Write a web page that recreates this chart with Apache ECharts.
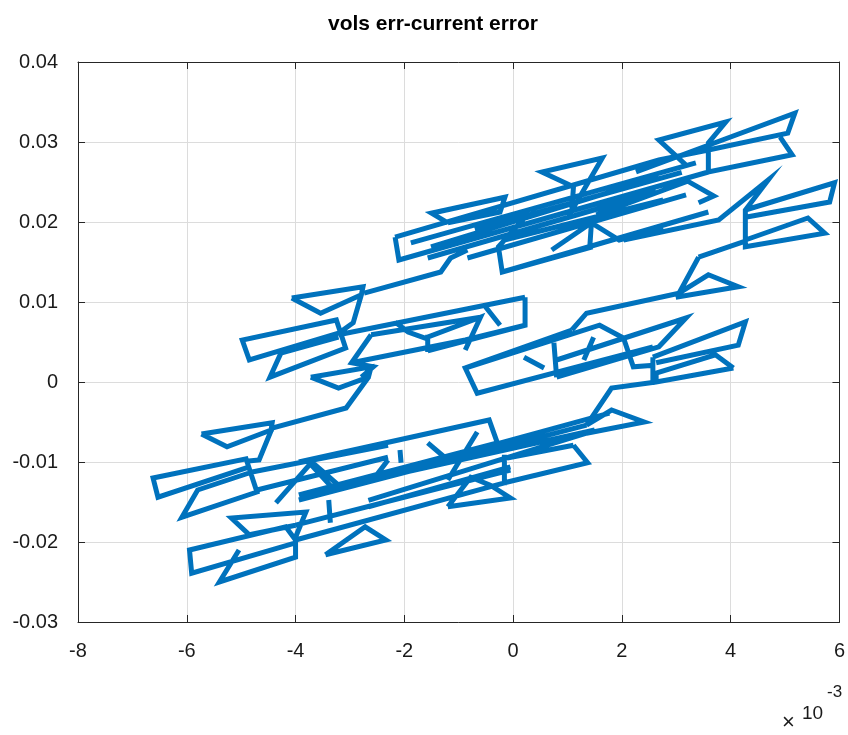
<!DOCTYPE html>
<html><head><meta charset="utf-8">
<script src="https://cdn.jsdelivr.net/npm/echarts@6/dist/echarts.min.js"></script>
<style>html,body{margin:0;padding:0;background:#fff}#c{width:848px;height:735px}</style>
</head><body><div id="c"></div>
<script>
// Trajectory of voltage error vs current error (x in units of 1e-3).
// null entries separate individual strokes of the trajectory.
const upperX = [3.18,2.68,3.91,3.59,3.59,5.13,4.91,null,
  2.26,5.18,5.05,3.59,null,
  -2.17,2.68,3.59,null,
  -2.17,-2.10,3.59,null,
  -1.88,3.36,null,
  -1.57,2.63,null,
  -0.70,3.10,null,
  -1.51,2.68,null,
  -0.16,2.76,null,
  -1.20,-1.50,-0.15,-0.24,-1.20,null,
  1.02,1.64,0.53,1.11,1.08,null,
  0.26,-0.27,-0.20,1.46,null,
  0.71,1.44,1.41,null,
  1.44,1.95,2.76,null,
  1.53,3.21,3.69,3.41,null,
  2.03,3.78,4.69,4.27,4.27,5.73,5.42,4.27,null,
  4.27,5.91,5.82,4.27,null,
  3.41,4.27,null,
  3.41,3.05,1.35,1.08,null,
  3.05,3.59,4.14,2.99,null,
  -0.20,3.59,null,
  -0.84,3.18,null,
  -0.84,-1.15,-1.33,-2.74];
const upperY = [0.0271,0.03025,0.0325,0.0299,0.02625,0.0284,0.0306,null,
  0.02625,0.0336,0.0311,0.0290,null,
  0.0181,0.02775,0.0290,null,
  0.0181,0.01525,0.02625,null,
  0.0174,0.0274,null,
  0.0155,0.02375,null,
  0.0190,0.0262,null,
  0.0169,0.0256,null,
  0.01775,0.02275,null,
  0.0199,0.0211,0.0231,0.02125,0.0199,null,
  0.02075,0.0280,0.02625,0.0244,0.0215,null,
  0.0209,0.0169,0.01375,0.0169,null,
  0.0165,0.0199,0.0169,null,
  0.0199,0.01775,0.01925,null,
  0.0209,0.0251,0.02325,0.0224,null,
  0.01775,0.02025,0.02525,0.0215,0.0169,0.0186,0.0205,0.01775,null,
  0.0215,0.0249,0.0225,0.0206,null,
  0.0156,0.0176,null,
  0.0156,0.0111,0.0086,0.0065,null,
  0.0111,0.0134,0.0119,0.0106,null,
  0.01375,0.02125,null,
  0.0155,0.0234,null,
  0.0165,0.0155,0.01375,0.0111];

const middleX = [-4.07,-2.76,-2.79,-3.54,-4.07,null,
  -2.79,-2.94,-3.21,null,
  -3.21,-4.85,-4.98,-3.25,-3.08,-4.47,-4.27,-3.21,null,
  -3.21,0.22,null,
  0.22,0.22,-1.57,null,
  -0.53,-0.24,null,
  -2.17,-1.93,-1.62,-0.60,-0.88,null,
  -2.61,-0.60,null,
  -2.61,-2.97,-2.57,-2.79,null,
  -2.97,-0.88,0.22,null,
  -1.57,-1.57,null,
  -3.72,-2.61,-2.66,-3.21,-3.72,null,
  -2.66,-3.07,-4.43,-4.67,-4.91,null,
  1.08,-0.88,-0.66,2.57,null,
  -0.88,1.59,2.03,2.21,2.59,null,
  0.80,3.18,2.68,0.80,null,
  2.57,4.27,4.14,2.63,null,
  4.05,3.72,2.63,2.63,4.05,null,
  2.57,2.57,null,
  0.75,0.80,null,
  0.20,0.57,null,
  1.48,1.30,null,
  2.63,1.81,1.35];
const middleY = [0.0105,0.0119,0.0109,0.0086,0.0105,null,
  0.0109,0.0074,0.0061,null,
  0.0061,0.00275,0.00525,0.00775,0.00425,0.0006,0.0036,0.0056,null,
  0.0059,0.0106,null,
  0.0106,0.0071,0.0039,null,
  0.0096,0.0071,null,
  0.0075,0.00625,0.0055,0.0081,0.0040,null,
  0.0059,0.0081,null,
  0.0059,0.0024,0.0019,0.0006,null,
  0.0024,0.00525,0.0071,null,
  0.0059,0.00375,null,
  0.0006,0.0019,0.0006,-0.00075,0.0006,null,
  0.0006,-0.00325,-0.00575,-0.00975,-0.0099,null,
  0.0065,0.00175,-0.0014,0.0044,null,
  0.00175,0.0071,0.0055,0.0019,0.0021,null,
  0.00275,0.0080,0.0044,0.0006,null,
  0.0031,0.0075,0.0046,0.0024,null,
  0.00175,0.0034,0.0011,0,0.00175,null,
  0.0031,-0.0001,null,
  0.0049,0.0006,null,
  0.0031,0.00175,null,
  0.0056,0.00275,null,
  0,-0.00075,-0.0054];

const lowerX = [1.35,1.81,2.41,1.35,null,
  1.35,-3.94,null,
  1.77,-3.39,null,
  1.50,-2.80,null,
  1.35,-2.66,null,
  -2.66,-0.05,null,
  1.11,1.37,-0.16,null,
  -0.11,1.11,null,
  -0.16,-0.16,null,
  -3.94,-0.44,-0.29,-3.94,null,
  -0.66,-1.20,null,
  -1.20,-0.05,-0.42,-0.78,-1.20,null,
  -1.57,-1.20,null,
  -2.08,-2.06,null,
  -3.45,-2.34,-2.72,-3.45,null,
  -3.76,-3.34,null,
  -3.39,-3.36,null,
  -4.00,-0.16,null,
  -2.30,-2.54,-0.16,null,
  -5.73,-4.43,-4.45,-5.26,-5.73,null,
  -4.85,-6.53,-6.62,-4.91,-4.71,-6.09,-5.80,-4.80,null,
  -4.80,-2.30,null,
  -4.36,-3.70,-3.21,-2.30,null,
  -4.71,-2.30,null,
  -4.00,-3.81,-5.18,-4.85,-4.00,null,
  -4.00,-4.18,-5.95,-5.91,-4.00,null,
  -5.04,-5.40,-4.00,-4.00,null,
  -4.00,-0.05];
const lowerY = [-0.0054,-0.0035,-0.0050,-0.0064,null,
  -0.0054,-0.01475,null,
  -0.0039,-0.0135,null,
  -0.0060,-0.0125,null,
  -0.0064,-0.0148,null,
  -0.0156,-0.0106,null,
  -0.0079,-0.0101,-0.0126,null,
  -0.0095,-0.0079,null,
  -0.0091,-0.0129,null,
  -0.0100,-0.00475,-0.0076,-0.0141,null,
  -0.00625,-0.01225,null,
  -0.0156,-0.0145,-0.0129,-0.0119,-0.0156,null,
  -0.0076,-0.00975,null,
  -0.0085,-0.0101,null,
  -0.0216,-0.01975,-0.0181,-0.0216,null,
  -0.0100,-0.0131,null,
  -0.01475,-0.0176,null,
  -0.01975,-0.0126,null,
  -0.00975,-0.0119,-0.0079,null,
  -0.0065,-0.0051,-0.0060,-0.0081,-0.0065,null,
  -0.0106,-0.0144,-0.0120,-0.0096,-0.01375,-0.0169,-0.0135,-0.01125,null,
  -0.01125,-0.0079,null,
  -0.0151,-0.0100,-0.0129,-0.0116,null,
  -0.0135,-0.0094,null,
  -0.0194,-0.01625,-0.0170,-0.0191,-0.0179,null,
  -0.01975,-0.0181,-0.0210,-0.0239,-0.0201,null,
  -0.0210,-0.0250,-0.0219,-0.01975,null,
  -0.0179,-0.0110];

const xTicks = [-8, -6, -4, -2, 0, 2, 4, 6];
const yTicks = [-0.03, -0.02, -0.01, 0, 0.01, 0.02, 0.03, 0.04];

const FONT = '"Liberation Sans Narrow", "Liberation Sans", Arial, sans-serif';
const LINE = '#0072BD';
const AXIS = '#262626';
const GRID = '#dcdcdc';

function pairs(xs, ys) {
  return xs.map((x, i) => (x === null ? ['-', '-'] : [x, ys[i]]));
}

const chart = echarts.init(document.getElementById('c'), null, { renderer: 'canvas' });

const baseAxis = {
  axisLine: { show: true, onZero: false, lineStyle: { color: AXIS, width: 1 } },
  axisTick: { show: true, inside: true, length: 7, lineStyle: { color: AXIS } },
  splitLine: { show: false },
  axisLabel: { show: false }
};

const trajectory = [[upperX, upperY], [middleX, middleY], [lowerX, lowerY]].map(([xs, ys]) => ({
  type: 'line',
  data: pairs(xs, ys),
  showSymbol: false,
  connectNulls: false,
  lineStyle: { color: LINE, width: 5, join: 'miter' },
  silent: true,
  animation: false
}));

chart.setOption({
  animation: false,
  backgroundColor: '#ffffff',
  title: {
    text: 'vols err-current error',
    left: 428, top: 9, textAlign: 'center',
    textStyle: { fontFamily: FONT, fontSize: 21, fontWeight: 'bold', color: '#000' }
  },
  grid: { left: 78, right: 3, top: 62, bottom: 113 },
  xAxis: [
    Object.assign({}, baseAxis, {
      type: 'value', min: -8, max: 6, interval: 2, position: 'bottom',
      splitLine: { show: true, lineStyle: { color: GRID, width: 1 } },
      axisLabel: { show: true, margin: 19, fontFamily: FONT, fontSize: 20, color: '#1a1a1a',
        formatter: v => xTicks.includes(v) ? String(v) : '' }
    }),
    Object.assign({}, baseAxis, { type: 'value', min: -8, max: 6, interval: 2, position: 'top' })
  ],
  yAxis: [
    Object.assign({}, baseAxis, {
      type: 'value', min: -0.03, max: 0.04, interval: 0.01, position: 'left',
      splitLine: { show: true, lineStyle: { color: GRID, width: 1 } },
      axisLabel: { show: true, margin: 20, fontFamily: FONT, fontSize: 20, color: '#1a1a1a',
        formatter: v => {
          const t = yTicks.find(k => Math.abs(k - v) < 1e-9);
          return t === undefined ? '' : (t === 0 ? '0' : String(t));
        } }
    }),
    Object.assign({}, baseAxis, { type: 'value', min: -0.03, max: 0.04, interval: 0.01, position: 'right' })
  ],
  series: trajectory,
  graphic: [
    { type: 'text', left: 782, top: 712, style: { text: '×', fontFamily: FONT, fontSize: 22, fill: '#1a1a1a' } },
    { type: 'text', left: 802, top: 704, style: { text: '10', fontFamily: FONT, fontSize: 19, fill: '#1a1a1a' } },
    { type: 'text', left: 827, top: 684, style: { text: '-3', fontFamily: FONT, fontSize: 17, fill: '#1a1a1a' } }
  ]
});
</script>
</body></html>
